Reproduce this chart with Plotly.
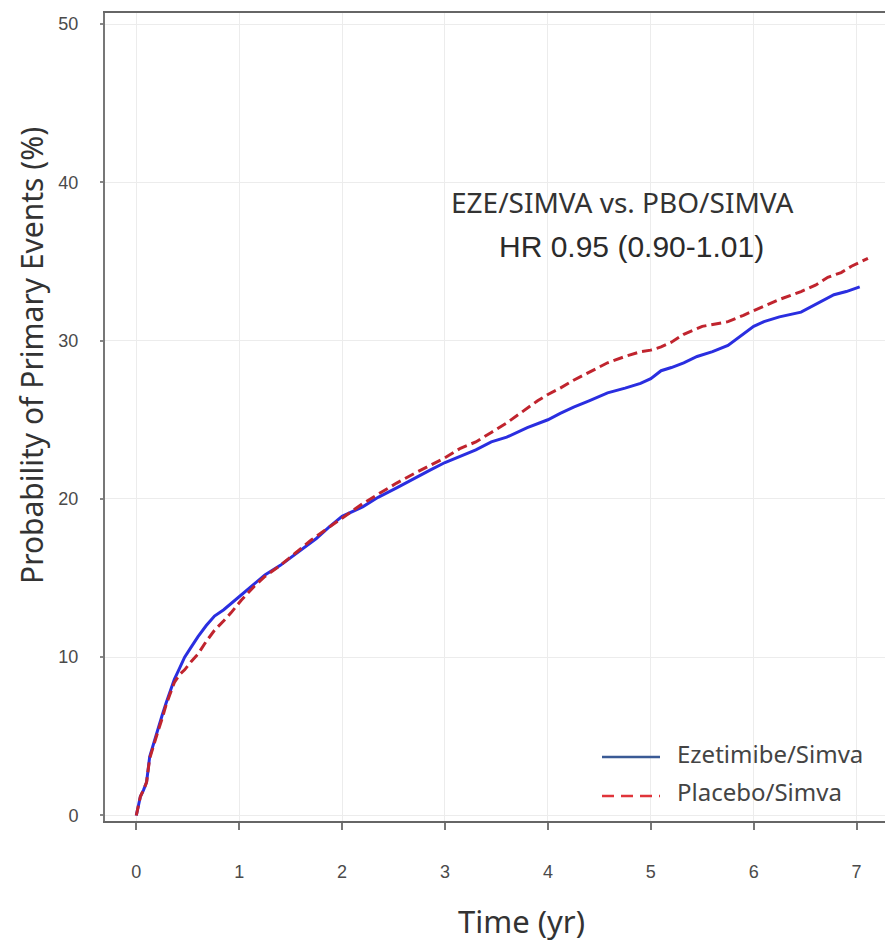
import plotly.graph_objects as go

# Kaplan-Meier style cumulative incidence of the primary endpoint (%)
eze_time = [0, 0.02, 0.04, 0.07, 0.1, 0.13, 0.17, 0.21, 0.25, 0.29, 0.33, 0.37, 0.42,
            0.47, 0.53, 0.6, 0.68, 0.76, 0.85, 0.96, 1.1, 1.25, 1.4, 1.5, 1.62, 1.75,
            1.87, 2.0, 2.2, 2.35, 2.53, 2.7, 2.85, 3.0, 3.15, 3.3, 3.45, 3.6, 3.8, 4.0,
            4.12, 4.25, 4.4, 4.58, 4.75, 4.9, 5.0, 5.1, 5.2, 5.32, 5.45, 5.6, 5.75, 5.9,
            6.0, 6.1, 6.25, 6.46, 6.6, 6.78, 6.9, 7.03]
eze_prob = [0, 0.6, 1.2, 1.6, 2.1, 3.7, 4.6, 5.4, 6.3, 7.1, 7.9, 8.6, 9.3,
            10.0, 10.6, 11.3, 12.0, 12.6, 13.0, 13.6, 14.4, 15.2, 15.8, 16.3, 16.9, 17.5,
            18.2, 18.9, 19.5, 20.1, 20.7, 21.3, 21.8, 22.3, 22.7, 23.1, 23.6, 23.9, 24.5, 25.0,
            25.4, 25.8, 26.2, 26.7, 27.0, 27.3, 27.6, 28.1, 28.3, 28.6, 29.0, 29.3, 29.7, 30.4,
            30.9, 31.2, 31.5, 31.8, 32.3, 32.9, 33.1, 33.4]

pbo_time = [0, 0.02, 0.04, 0.07, 0.1, 0.13, 0.17, 0.21, 0.25, 0.29, 0.33, 0.37, 0.42,
            0.47, 0.53, 0.6, 0.68, 0.76, 0.85, 0.92, 1.02, 1.15, 1.25, 1.4, 1.55, 1.7,
            1.85, 2.0, 2.2, 2.35, 2.53, 2.7, 2.85, 3.0, 3.15, 3.3, 3.45, 3.6, 3.75, 3.9,
            4.0, 4.12, 4.25, 4.4, 4.58, 4.75, 4.9, 5.0, 5.1, 5.2, 5.32, 5.5, 5.75, 5.9,
            6.1, 6.25, 6.46, 6.6, 6.72, 6.85, 6.95, 7.11]
pbo_prob = [0, 0.6, 1.2, 1.6, 2.1, 3.6, 4.5, 5.3, 6.1, 7.0, 7.7, 8.4, 8.9,
            9.2, 9.7, 10.2, 11.0, 11.7, 12.3, 12.8, 13.6, 14.5, 15.1, 15.8, 16.6, 17.4,
            18.1, 18.8, 19.7, 20.3, 21.0, 21.6, 22.1, 22.6, 23.2, 23.6, 24.2, 24.8, 25.5, 26.2,
            26.6, 27.0, 27.5, 28.0, 28.6, 29.0, 29.3, 29.4, 29.6, 29.9, 30.4, 30.9, 31.2, 31.6,
            32.2, 32.6, 33.1, 33.5, 34.0, 34.3, 34.7, 35.2]

x_ticks = [0, 1, 2, 3, 4, 5, 6, 7]
y_ticks = [0, 10, 20, 30, 40, 50]

series_names = ["Ezetimibe/Simva", "Placebo/Simva"]
comparison_text = "EZE/SIMVA vs. PBO/SIMVA"
hr_text = "HR 0.95 (0.90-1.01)"
x_title = "Time (yr)"
y_title = "Probability of Primary Events (%)"

W, H = 885, 943
L, R, T, B = 105, 0, 13, 122
pw, ph = W - L - R, H - T - B


def px(x):
    return (x - L) / pw


def py(y):
    return (H - B - y) / ph


fig = go.Figure()
fig.add_trace(go.Scatter(x=eze_time, y=eze_prob, mode="lines", name=series_names[0],
                         line=dict(color="#2a2ee0", width=3), showlegend=False))
fig.add_trace(go.Scatter(x=pbo_time, y=pbo_prob, mode="lines", name=series_names[1],
                         line=dict(color="#c0242e", width=3, dash="10px,5px"),
                         showlegend=False))

tick_font = dict(family="Liberation Sans", size=18, color="#4a4a4a")

fig.update_layout(
    width=W, height=H,
    margin=dict(l=L, r=R, t=T, b=B),
    paper_bgcolor="white", plot_bgcolor="white",
    xaxis=dict(range=[-0.304, 7.276], tickvals=x_ticks, ticktext=[str(v) for v in x_ticks],
               showgrid=True, gridcolor="#ececec", gridwidth=1, zeroline=False,
               showline=True, linecolor="#666666", linewidth=2, mirror=True,
               ticks="outside", ticklen=7, tickwidth=1.5, tickcolor="#777777",
               tickfont=tick_font, ticklabelstandoff=26),
    yaxis=dict(range=[-0.35, 50.7], tickvals=y_ticks, ticktext=[str(v) for v in y_ticks],
               showgrid=True, gridcolor="#ececec", gridwidth=1, zeroline=False,
               showline=True, linecolor="#777777", linewidth=2,
               ticks="outside", ticklen=3, tickwidth=1.5, tickcolor="#888888",
               tickfont=tick_font, ticklabelstandoff=18),
)

annotations = [
    dict(x=px(521), y=py(921), text=x_title,
         font=dict(family="Noto Sans", size=31, color="#333333")),
    dict(x=px(31), y=py(356), text=y_title, textangle=-90,
         font=dict(family="Noto Sans", size=30, color="#333333")),
    dict(x=px(622), y=py(202), text=comparison_text,
         font=dict(family="Noto Sans", size=28, color="#333333")),
    dict(x=px(631), y=py(246), text=hr_text,
         font=dict(family="Liberation Sans", size=30, color="#2b2b2b")),
    dict(x=px(675), y=py(753), text=series_names[0], xanchor="left",
         font=dict(family="Noto Sans", size=24, color="#444444")),
    dict(x=px(675), y=py(791), text=series_names[1], xanchor="left",
         font=dict(family="Noto Sans", size=24, color="#444444")),
]
for a in annotations:
    a.setdefault("xanchor", "center")
    fig.add_annotation(xref="paper", yref="paper", yanchor="middle", showarrow=False, **a)

# legend line samples
fig.add_shape(type="line", xref="paper", yref="paper", x0=px(602), x1=px(660),
              y0=py(757), y1=py(757), line=dict(color="#3a5a95", width=2.5))
fig.add_shape(type="line", xref="paper", yref="paper", x0=px(602), x1=px(660),
              y0=py(796), y1=py(796), line=dict(color="#e0343a", width=2.5, dash="12px,7px"))

fig.write_html("out.html")
